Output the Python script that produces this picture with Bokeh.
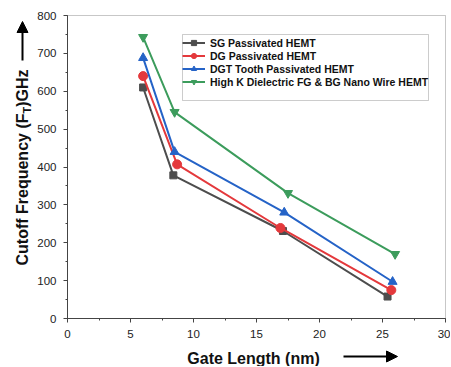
import math
from bokeh.plotting import figure
from bokeh.models import (Range1d, Legend, LegendItem, BoxAnnotation, Label, Arrow,
                          NormalHead, SingleIntervalTicker)
from bokeh.embed import file_html
from bokeh.resources import INLINE

# ---- data ----
series_names = ["SG Passivated HEMT", "DG Passivated HEMT",
                "DGT Tooth Passivated HEMT", "High K Dielectric FG & BG Nano Wire HEMT"]
x_sg = [6.0, 8.4, 17.1, 25.4]
y_sg = [610, 378, 231, 58]
x_dg = [6.0, 8.7, 16.9, 25.7]
y_dg = [640, 407, 239, 75]
x_dgt = [6.0, 8.5, 17.2, 25.8]
y_dgt = [688, 440, 280, 97]
x_hk = [6.0, 8.5, 17.5, 26.0]
y_hk = [743, 545, 331, 170]
x_axis_min, x_axis_max, x_tick_step = 0, 30, 5
y_axis_min, y_axis_max, y_tick_step = 0, 800, 100

FONT = "Liberation Sans"

# ---- layout (pixels) ----
W, H = 450, 366
PX_LEFT, PX_RIGHT, PX_TOP, PX_BOTTOM = 67, 445, 15, 318   # plot-area box on the canvas
sx = (PX_RIGHT - PX_LEFT) / (x_axis_max - x_axis_min)
sy = (PX_BOTTOM - PX_TOP) / (y_axis_max - y_axis_min)
xr = Range1d(x_axis_min - PX_LEFT / sx, x_axis_max + (W - PX_RIGHT) / sx)
yr = Range1d(y_axis_min - (H - PX_BOTTOM) / sy, y_axis_max + PX_TOP / sy)

def dx(px):
    return xr.start + px / sx

def dy(py):
    return yr.end - py / sy

p = figure(width=W, height=H, output_backend="svg", toolbar_location=None,
           x_range=xr, y_range=yr,
           min_border_left=0, min_border_right=0, min_border_top=0, min_border_bottom=0)
p.xgrid.visible = False
p.ygrid.visible = False
p.outline_line_color = None

p.xaxis.ticker = SingleIntervalTicker(interval=x_tick_step, num_minor_ticks=2)
p.yaxis.ticker = SingleIntervalTicker(interval=y_tick_step, num_minor_ticks=2)
p.xaxis.fixed_location = y_axis_min
p.yaxis.fixed_location = x_axis_min
p.xaxis.bounds = (x_axis_min, x_axis_max)
p.yaxis.bounds = (y_axis_min, y_axis_max)
for ax in (p.xaxis, p.yaxis):
    ax.axis_line_color = "#444444"
    ax.major_tick_line_color = "#444444"
    ax.minor_tick_line_color = "#444444"
    ax.major_tick_in = 0
    ax.major_tick_out = 4
    ax.minor_tick_in = 0
    ax.minor_tick_out = 2
    ax.major_label_text_font = FONT
    ax.major_label_text_font_size = "11.5px"
    ax.major_label_text_color = "#222222"
    ax.major_label_standoff = 7

# plot-area outline (top / right edges)
p.add_layout(BoxAnnotation(left=x_axis_min, right=x_axis_max, bottom=y_axis_min, top=y_axis_max,
                           fill_alpha=0, line_color="#444444", line_width=1, level="underlay"))

colors = ["#4d4d4d", "#e4393c", "#2563c7", "#3c9c5c"]
markers = ["square", "circle", "triangle", "inverted_triangle"]
sizes = [7, 9, 9, 9]
xs = [x_sg, x_dg, x_dgt, x_hk]
ys = [y_sg, y_dg, y_dgt, y_hk]

items = []
for name, xv, yv, c, m, s in zip(series_names, xs, ys, colors, markers, sizes):
    r1 = p.line(xv, yv, line_color=c, line_width=2)
    r2 = p.scatter(xv, yv, marker=m, size=s, fill_color=c, line_color=c)
    items.append(LegendItem(label=name, renderers=[r1, r2]))

# legend frame
p.add_layout(BoxAnnotation(left=dx(182), right=dx(428), top=dy(34), bottom=dy(100),
                           fill_color="white", fill_alpha=1, line_color="#555555", line_width=1))

legend = Legend(items=items, location=(182, H - 88), padding=0, margin=0, spacing=0,
                glyph_width=23, glyph_height=13, label_height=13, label_standoff=5,
                label_text_font=FONT, label_text_font_size="10.5px",
                label_text_font_style="bold", label_text_color="#111111",
                border_line_alpha=0, background_fill_alpha=0)
p.add_layout(legend, "center")

# y axis label with subscript
lab_kw = dict(text_font=FONT, text_font_style="bold", text_color="#111111",
              angle=math.pi / 2, text_align="left", text_baseline="middle")
p.add_layout(Label(x=dx(22), y=dy(265), text="Cutoff Frequency (F", text_font_size="16px", **lab_kw))
p.add_layout(Label(x=dx(26), y=dy(113), text="T", text_font_size="11px", **lab_kw))
p.add_layout(Label(x=dx(22), y=dy(106.3), text=")GHz", text_font_size="16px", **lab_kw))

# x axis label
p.add_layout(Label(x=dx(253), y=dy(358), text="Gate Length (nm)", text_font=FONT,
                   text_font_style="bold", text_font_size="16px", text_color="#111111",
                   text_align="center", text_baseline="middle"))

# arrows
p.add_layout(Arrow(x_start=dx(22), y_start=dy(60), x_end=dx(22), y_end=dy(21),
                   line_width=2, line_color="black",
                   end=NormalHead(size=11, fill_color="black", line_color="black")))
p.add_layout(Arrow(x_start=dx(343), y_start=dy(356), x_end=dx(397), y_end=dy(356),
                   line_width=2, line_color="black",
                   end=NormalHead(size=11, fill_color="black", line_color="black")))

open("out.html", "w").write(file_html(p, INLINE))
